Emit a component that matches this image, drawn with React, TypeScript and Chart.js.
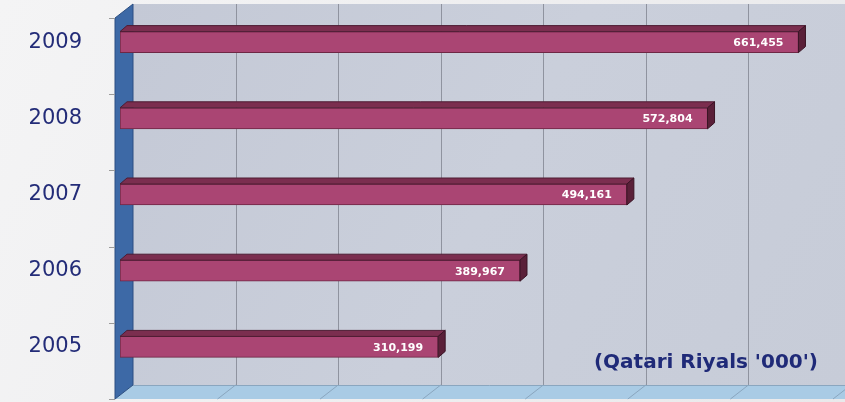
import React, { useEffect, useRef } from "react";
import { Chart, registerables } from "chart.js";

Chart.register(...registerables);

const categories = ["2009", "2008", "2007", "2006", "2005"];
const values = [661455, 572804, 494161, 389967, 310199];
const gridValues = [0, 100000, 200000, 300000, 400000, 500000, 600000, 700000];
const unitLabel = "(Qatari Riyals '000')";

const DEPTH_X = 13; // back wall offset from value-zero
const WALL_FRONT_X = -5;
const BAR_DX = 7;
const BAR_DY = -6;

const wallsPlugin = {
  id: "walls3d",
  beforeDraw(chart: any) {
    const { ctx, width, height } = chart;
    ctx.save();
    const g = ctx.createLinearGradient(0, 0, width, height);
    g.addColorStop(0, "#f4f4f5");
    g.addColorStop(1, "#e9e9eb");
    ctx.fillStyle = g;
    ctx.fillRect(0, 0, width, height);
    ctx.restore();
  },
  beforeDatasetsDraw(chart: any) {
    const { ctx, chartArea, width } = chart;
    const xs = chart.scales.x;
    const ys = chart.scales.y;
    const x0 = xs.getPixelForValue(0);
    const backL = x0 + DEPTH_X;
    const frontL = x0 + WALL_FRONT_X;
    const top = chartArea.top;
    const bot = chartArea.bottom;
    const dy = 14;
    ctx.save();
    // back wall
    const bg = ctx.createLinearGradient(backL, top, width, bot);
    bg.addColorStop(0, "#c4c9d6");
    bg.addColorStop(0.5, "#cacfdb");
    bg.addColorStop(1, "#c7ccd8");
    ctx.fillStyle = bg;
    ctx.fillRect(backL, top, width - backL + 20, bot - top);
    // gridlines on back wall
    ctx.strokeStyle = "#8f939f";
    ctx.lineWidth = 1;
    gridValues.forEach((v) => {
      if (v === 0) return;
      const gx = Math.round(xs.getPixelForValue(v) + DEPTH_X) + 0.5;
      ctx.beginPath();
      ctx.moveTo(gx, top);
      ctx.lineTo(gx, bot);
      ctx.stroke();
    });
    // floor
    ctx.fillStyle = "#a9cbe5";
    ctx.beginPath();
    ctx.moveTo(backL, bot);
    ctx.lineTo(width + 40, bot);
    ctx.lineTo(width + 40 - 18, bot + dy);
    ctx.lineTo(frontL, bot + dy);
    ctx.closePath();
    ctx.fill();
    ctx.strokeStyle = "#8aa6bf";
    ctx.beginPath();
    ctx.moveTo(backL, bot + 0.5);
    ctx.lineTo(width + 40, bot + 0.5);
    ctx.stroke();
    gridValues.forEach((v) => {
      if (v === 0) return;
      const gx = xs.getPixelForValue(v) + DEPTH_X;
      ctx.beginPath();
      ctx.moveTo(gx, bot);
      ctx.lineTo(gx - 18, bot + dy);
      ctx.stroke();
    });
    // left wall
    ctx.fillStyle = "#3d69a6";
    ctx.beginPath();
    ctx.moveTo(frontL, top + dy);
    ctx.lineTo(backL, top);
    ctx.lineTo(backL, bot);
    ctx.lineTo(frontL, bot + dy);
    ctx.closePath();
    ctx.fill();
    ctx.strokeStyle = "#2c4f82";
    ctx.stroke();
    // small tick marks at category boundaries
    ctx.strokeStyle = "#9a9a9a";
    const n = categories.length;
    for (let i = 0; i <= n; i++) {
      const yy = Math.round(ys.top + ((ys.bottom - ys.top) * i) / n + dy) + 0.5;
      ctx.beginPath();
      ctx.moveTo(frontL - 6, yy);
      ctx.lineTo(frontL, yy);
      ctx.stroke();
    }
    ctx.restore();
  },
  afterDatasetsDraw(chart: any) {
    const { ctx, chartArea } = chart;
    const meta = chart.getDatasetMeta(0);
    ctx.save();
    meta.data.forEach((el: any, i: number) => {
      const p = el.getProps(["x", "y", "base", "height"], true);
      const yTop = p.y - p.height / 2;
      const yBot = p.y + p.height / 2;
      // top face
      ctx.fillStyle = "#7b2e4f";
      ctx.beginPath();
      ctx.moveTo(p.base, yTop);
      ctx.lineTo(p.base + BAR_DX, yTop + BAR_DY);
      ctx.lineTo(p.x + BAR_DX, yTop + BAR_DY);
      ctx.lineTo(p.x, yTop);
      ctx.closePath();
      ctx.fill();
      ctx.strokeStyle = "#4e1c33";
      ctx.lineWidth = 1;
      ctx.stroke();
      // right face
      ctx.fillStyle = "#5a2039";
      ctx.beginPath();
      ctx.moveTo(p.x, yTop);
      ctx.lineTo(p.x + BAR_DX, yTop + BAR_DY);
      ctx.lineTo(p.x + BAR_DX, yBot + BAR_DY);
      ctx.lineTo(p.x, yBot);
      ctx.closePath();
      ctx.fill();
      ctx.strokeStyle = "#3a1425";
      ctx.stroke();
      // value label
      ctx.fillStyle = "#ffffff";
      ctx.font = "bold 11px 'DejaVu Sans'";
      ctx.textAlign = "right";
      ctx.textBaseline = "middle";
      ctx.fillText(values[i].toLocaleString("en-US"), p.x - 15, p.y + 1);
    });
    // unit label
    ctx.fillStyle = "#1f2a78";
    ctx.font = "bold 20px 'DejaVu Sans'";
    ctx.textAlign = "right";
    ctx.textBaseline = "middle";
    ctx.fillText(unitLabel, chartArea.right - 20, chartArea.bottom - 22);
    ctx.restore();
  },
};

export default function App() {
  const ref = useRef<HTMLCanvasElement | null>(null);
  useEffect(() => {
    document.body.style.margin = "0";
    const canvas = ref.current;
    if (!canvas) return;
    const chart = new Chart(canvas, {
      type: "bar",
      data: {
        labels: categories,
        datasets: [
          {
            data: values,
            backgroundColor: "#aa4573",
            borderColor: "#6e2744",
            borderWidth: 1,
            borderSkipped: false,
            barThickness: 21,
          },
        ],
      },
      options: {
        indexAxis: "y",
        animation: false,
        responsive: false,
        maintainAspectRatio: false,
        layout: { padding: { top: 4, bottom: 17, right: 7, left: 0 } },
        plugins: {
          legend: { display: false },
          tooltip: { enabled: false },
        },
        scales: {
          x: {
            display: false,
            min: 0,
            max: 700000,
          },
          y: {
            grid: { display: false, drawTicks: false },
            border: { display: false },
            ticks: {
              color: "#232c78",
              font: { family: "'DejaVu Sans'", size: 21 },
              padding: 38,
            },
            afterFit(scale: any) {
              scale.width = 120;
              scale.paddingTop = 0;
              scale.paddingBottom = 0;
            },
          },
        },
      },
      plugins: [wallsPlugin],
    });
    return () => chart.destroy();
  }, []);
  return (
    <div style={{ position: "absolute", left: 0, top: 0, width: 845, height: 402 }}>
      <canvas ref={ref} width={845} height={402} />
    </div>
  );
}
